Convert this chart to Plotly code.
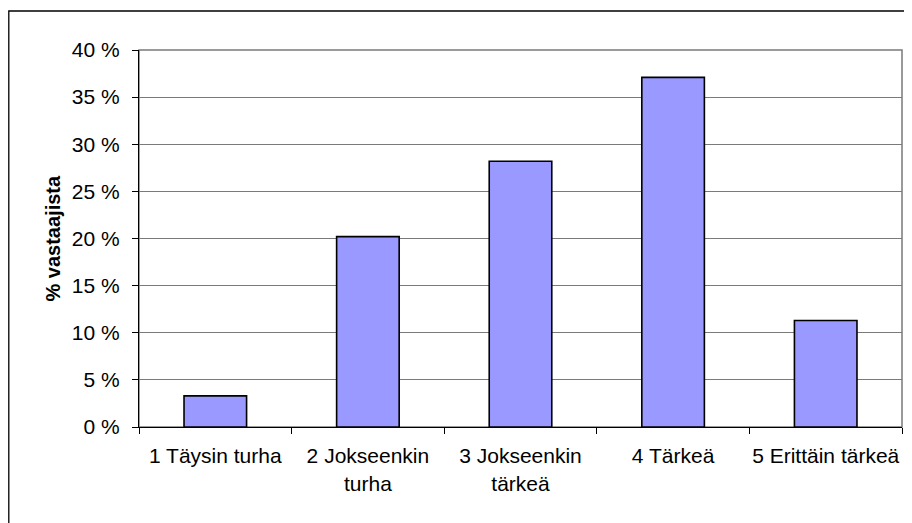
import plotly.graph_objects as go

categories = ["1 Täysin turha", "2 Jokseenkin turha", "3 Jokseenkin tärkeä", "4 Tärkeä", "5 Erittäin tärkeä"]
tick_labels = ["1 Täysin turha", "2 Jokseenkin<br>turha", "3 Jokseenkin<br>tärkeä", "4 Tärkeä", "5 Erittäin tärkeä"]
values = [3.3, 20.2, 28.2, 37.1, 11.3]
y_ticks = [0, 5, 10, 15, 20, 25, 30, 35, 40]
y_tick_labels = [f"{v} %" for v in y_ticks]
y_title = "% vastaajista"

FONT = "Liberation Sans, Arial, sans-serif"

fig = go.Figure(
    go.Bar(
        x=categories,
        y=values,
        marker=dict(color="#9999FF", line=dict(color="#000000", width=1.6)),
        width=0.41,
    )
)

# page has an 8px body margin: figure is placed at (8, 8)
OFF = 8
W, H = 912 - OFF, 523 - OFF
L, T = 139 - OFF, 50 - OFF
R = W - (902 - OFF)
B = H - (427 - OFF)
pw, ph = W - L - R, H - T - B

fig.update_layout(
    width=W,
    height=H,
    margin=dict(l=L, r=R, t=T, b=B, pad=0),
    paper_bgcolor="white",
    plot_bgcolor="white",
    showlegend=False,
    font=dict(family=FONT, size=21, color="#000000"),
    xaxis=dict(
        tickmode="array",
        tickvals=categories,
        ticktext=tick_labels,
        tickson="boundaries",
        ticks="outside",
        ticklen=6,
        tickcolor="#000000",
        showline=True,
        linecolor="#000000",
        linewidth=1.2,
        showgrid=False,
        automargin=False,
        tickfont=dict(family=FONT, size=21, color="#000000"),
        tickangle=0,
        ticklabelstandoff=10,
    ),
    yaxis=dict(
        range=[0, 40],
        tickmode="array",
        tickvals=y_ticks,
        ticktext=y_tick_labels,
        ticks="outside",
        ticklen=6,
        tickcolor="#000000",
        showline=True,
        linecolor="#000000",
        linewidth=1.2,
        showgrid=True,
        gridcolor="#7a7a7a",
        gridwidth=1.2,
        zeroline=False,
        automargin=False,
        tickfont=dict(family=FONT, size=21, color="#000000"),
        ticklabelstandoff=8,
    ),
)

# y-axis title as annotation
fig.add_annotation(
    text=f"<b>{y_title}</b>",
    xref="paper", yref="paper",
    x=(52 - OFF - L) / pw, y=0.5,
    xanchor="center", yanchor="middle",
    textangle=-90,
    showarrow=False,
    font=dict(family=FONT, size=20, color="#000000"),
)

# plot-area border (gray)
fig.add_shape(
    type="rect", xref="paper", yref="paper",
    x0=0, x1=1, y0=0, y1=1,
    line=dict(color="#7a7a7a", width=1.5),
    layer="below",
)

# outer chart border (left and top edges visible)
fig.add_shape(
    type="rect", xref="paper", yref="paper",
    x0=(0.8 - L) / pw, x1=(W + 10 - L) / pw,
    y0=-(B + 10) / ph, y1=(ph + T - 3) / ph,
    line=dict(color="#000000", width=1.3),
    layer="below",
)

fig.write_html("out.html")
